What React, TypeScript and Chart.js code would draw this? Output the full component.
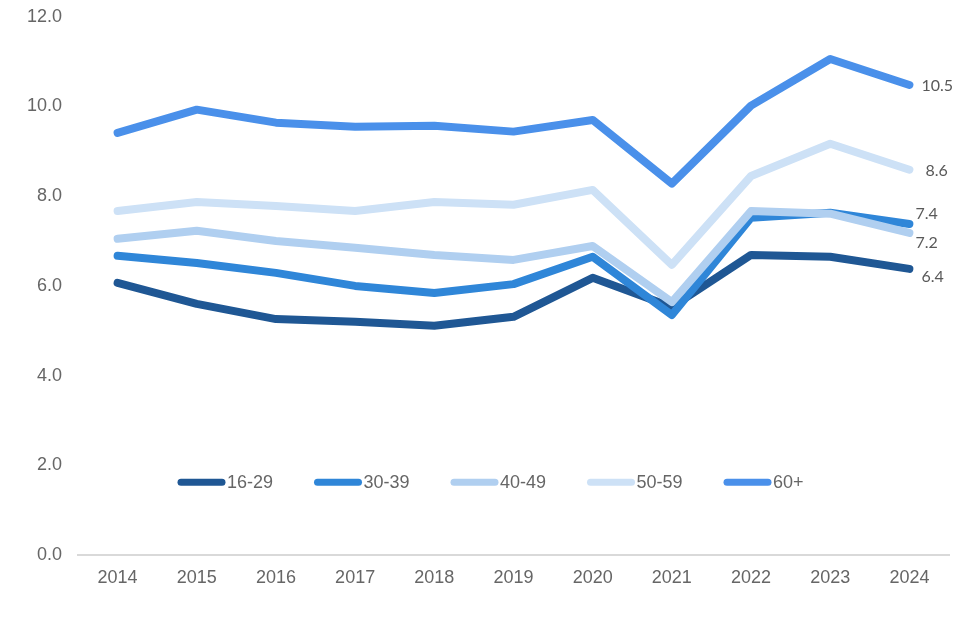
import React, { useEffect, useRef } from "react";
import { Chart, registerables } from "chart.js";

Chart.register(...registerables);

const years = ["2014", "2015", "2016", "2017", "2018", "2019", "2020", "2021", "2022", "2023", "2024"];
const seriesNames = ["16-29", "30-39", "40-49", "50-59", "60+"];
const age16to29 = [6.07, 5.6, 5.26, 5.2, 5.11, 5.31, 6.18, 5.53, 6.69, 6.65, 6.38];
const age30to39 = [6.67, 6.51, 6.29, 6.0, 5.84, 6.04, 6.65, 5.35, 7.52, 7.63, 7.38];
const age40to49 = [7.05, 7.23, 7.0, 6.85, 6.69, 6.58, 6.89, 5.64, 7.67, 7.61, 7.18];
const age50to59 = [7.67, 7.87, 7.78, 7.67, 7.87, 7.81, 8.14, 6.47, 8.45, 9.17, 8.59];
const age60plus = [9.41, 9.93, 9.64, 9.55, 9.57, 9.44, 9.7, 8.28, 10.02, 11.06, 10.48];
const endLabels = ["6.4", "7.4", "7.2", "8.6", "10.5"];

const colors = ["#1f5794", "#2f86d8", "#b0cff0", "#cde1f6", "#4a90ea"];
const endLabelOffsets = [
  { dx: 12, dy: 8 },
  { dx: 6, dy: -10 },
  { dx: 6, dy: 10 },
  { dx: 16, dy: 1 },
  { dx: 12, dy: 1 },
];

const endLabelPlugin = {
  id: "endLabels",
  afterDatasetsDraw(chart: any) {
    const ctx = chart.ctx;
    ctx.save();
    ctx.font = "16px Lato";
    ctx.fillStyle = "#595959";
    ctx.textAlign = "left";
    ctx.textBaseline = "middle";
    chart.data.datasets.forEach((ds: any, i: number) => {
      const meta = chart.getDatasetMeta(i);
      const pt = meta.data[meta.data.length - 1];
      const off = endLabelOffsets[i];
      ctx.fillText(endLabels[i], pt.x + off.dx, pt.y + off.dy);
    });
    ctx.restore();
  },
};

const legendPlugin = {
  id: "innerLegend",
  afterDraw(chart: any) {
    const ctx = chart.ctx;
    const y = chart.scales.y.getPixelForValue(1.62);
    const startX = 178;
    const step = 136.5;
    ctx.save();
    ctx.font = "18px 'Liberation Sans', Arial, sans-serif";
    ctx.textBaseline = "middle";
    ctx.textAlign = "left";
    seriesNames.forEach((name, i) => {
      const x = startX + i * step;
      ctx.strokeStyle = colors[i];
      ctx.lineWidth = 7;
      ctx.lineCap = "round";
      ctx.beginPath();
      ctx.moveTo(x + 3, y);
      ctx.lineTo(x + 44, y);
      ctx.stroke();
      ctx.fillStyle = "#666666";
      ctx.fillText(name, x + 49, y + 1);
    });
    ctx.restore();
  },
};

export default function App() {
  const ref = useRef<HTMLCanvasElement>(null);

  useEffect(() => {
    document.body.style.margin = "0";
    const seriesValues = [age16to29, age30to39, age40to49, age50to59, age60plus];
    const chart = new Chart(ref.current as HTMLCanvasElement, {
      type: "line",
      data: {
        labels: years,
        datasets: seriesValues.map((vals, i) => ({
          label: seriesNames[i],
          data: vals,
          borderColor: colors[i],
          backgroundColor: colors[i],
          borderWidth: 8,
          pointRadius: 0,
          borderCapStyle: "round",
          borderJoinStyle: "round",
          tension: 0,
          order: 5 - i,
        })),
      },
      options: {
        animation: false,
        responsive: false,
        layout: { padding: { left: 8, right: 11, top: 0, bottom: 0 } },
        plugins: {
          legend: { display: false },
          tooltip: { enabled: false },
        },
        scales: {
          x: {
            offset: true,
            grid: { display: false, drawTicks: false },
            border: { display: true, color: "#d9d9d9", width: 2 },
            ticks: {
              color: "#666666",
              font: { family: "'Liberation Sans', Arial, sans-serif", size: 18 },
              padding: 12,
              maxRotation: 0,
            },
            afterFit: (s: any) => {
              s.height = 85;
            },
          },
          y: {
            min: 0,
            max: 12,
            grid: { display: false, drawTicks: true, tickLength: 10 },
            border: { display: false },
            ticks: {
              stepSize: 2,
              color: "#666666",
              font: { family: "'Liberation Sans', Arial, sans-serif", size: 18 },
              padding: 6,
              callback: (v: any) => Number(v).toFixed(1),
            },
            afterFit: (s: any) => {
              s.width = 70;
            },
          },
        },
      },
      plugins: [endLabelPlugin, legendPlugin],
    });
    return () => chart.destroy();
  }, []);

  return (
    <div style={{ position: "fixed", left: 0, top: 0, width: 960, height: 640, background: "#ffffff" }}>
      <canvas ref={ref} width={960} height={640} style={{ width: 960, height: 640 }} />
    </div>
  );
}
